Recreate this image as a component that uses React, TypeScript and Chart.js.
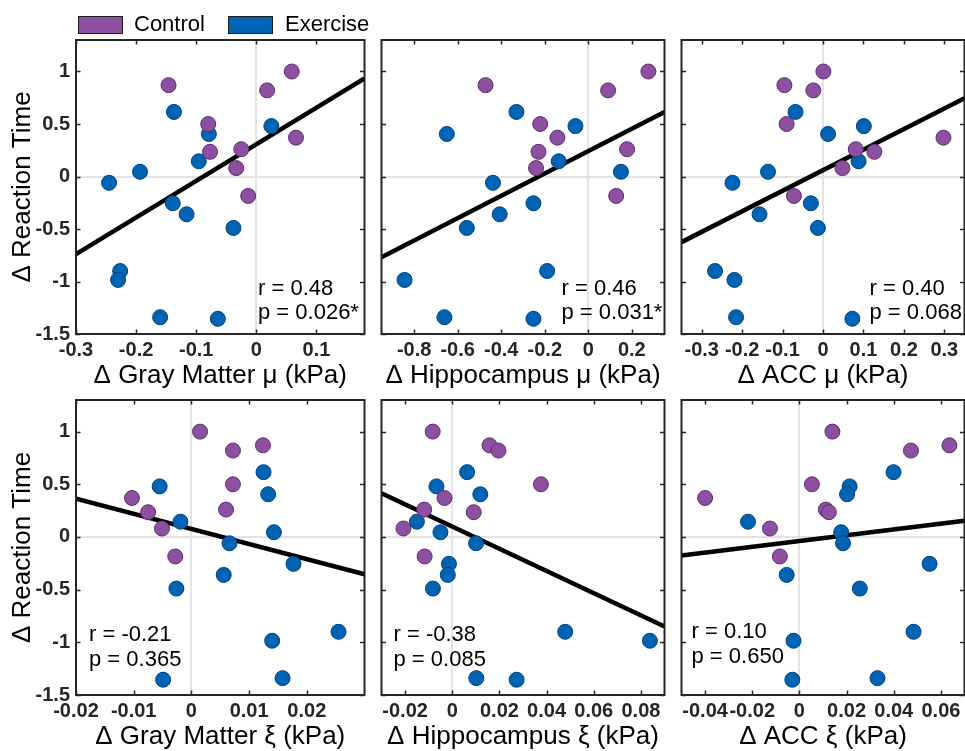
import React, { useEffect, useRef } from "react";
import { Chart, registerables } from "chart.js";

Chart.register(...registerables);

const FONT = '"Liberation Sans", Arial, Helvetica, sans-serif';

// ---------------- DATA ----------------
// Δ Reaction Time (shared y values, same subject order in every panel)
const controlRT = [1.0, 0.87, 0.82, 0.5, 0.37, 0.26, 0.235, 0.08, -0.185];
const exerciseRT = [0.615, 0.48, 0.405, 0.145, 0.045, -0.06, -0.255, -0.36, -0.49, -0.9, -0.985, -1.34, -1.355];

// Δ Gray Matter μ (kPa)
const gmMuControl = [0.059, -0.146, 0.018, -0.08, 0.066, -0.025, -0.077, -0.0335, -0.0135];
const gmMuExercise = [-0.137, 0.025, -0.079, -0.0957, -0.1935, -0.245, -0.139, -0.116, -0.038, -0.2265, -0.23, -0.16, -0.064];
const gmMuFitX = [-0.3, 0.18];
const gmMuFitY = [-0.74, 0.935];

// Δ Hippocampus μ (kPa)
const hipMuControl = [0.276, -0.472, 0.091, -0.221, -0.142, 0.178, -0.229, -0.24, 0.128];
const hipMuExercise = [-0.33, -0.059, -0.65, -0.136, 0.15, -0.438, -0.252, -0.407, -0.558, -0.189, -0.844, -0.661, -0.252];
const hipMuFitX = [-0.95, 0.35];
const hipMuFitY = [-0.77, 0.615];

// Δ ACC μ (kPa)
const accMuControl = [0.001, -0.0955, -0.024, -0.09, 0.298, 0.081, 0.127, 0.048, -0.072];
const accMuExercise = [-0.068, 0.101, 0.0126, 0.088, -0.136, -0.224, -0.03, -0.157, -0.0126, -0.267, -0.219, -0.215, 0.0726];
const accMuFitX = [-0.35, 0.35];
const accMuFitY = [-0.625, 0.745];

// Δ Gray Matter ξ (kPa)
const gmXiControl = [0.0015, 0.0124, 0.0072, 0.0072, -0.0103, 0.006, -0.0075, -0.0051, -0.0028];
const gmXiExercise = [0.0125, -0.0055, 0.0133, -0.0019, 0.0143, 0.0066, 0.0177, 0.0056, -0.0026, 0.0255, 0.014, 0.0158, -0.0049];
const gmXiFitX = [-0.02, 0.03];
const gmXiFitY = [0.363, -0.354];

// Δ Hippocampus ξ (kPa)
const hipXiControl = [-0.0083, 0.0158, 0.0196, 0.0376, -0.0033, -0.0119, 0.0091, -0.0207, -0.0117];
const hipXiExercise = [0.0063, -0.0067, 0.0119, -0.015, -0.005, 0.0101, -0.0014, -0.0019, -0.0082, 0.0479, 0.0838, 0.0102, 0.0273];
const hipXiFitX = [-0.03, 0.09];
const hipXiFitY = [0.414, -0.85];

// Δ ACC ξ (kPa)
const accXiControl = [0.014, 0.0636, 0.0473, 0.0053, -0.04, 0.0112, 0.0125, -0.0125, -0.0083];
const accXiExercise = [0.0399, 0.0213, 0.0202, -0.0218, 0.0177, 0.0185, 0.0552, -0.0054, 0.0256, 0.0484, -0.0025, 0.0331, -0.003];
const accXiFitX = [-0.05, 0.07];
const accXiFitY = [-0.175, 0.154];

// Tick labels
const yTicks = [-1.5, -1, -0.5, 0, 0.5, 1];
const gmMuTicks = [-0.3, -0.2, -0.1, 0, 0.1];
const hipMuTicks = [-0.8, -0.6, -0.4, -0.2, 0, 0.2];
const accMuTicks = [-0.3, -0.2, -0.1, 0, 0.1, 0.2, 0.3];
const gmXiTicks = [-0.02, -0.01, 0, 0.01, 0.02];
const hipXiTicks = [-0.02, 0, 0.02, 0.04, 0.06, 0.08];
const accXiTicks = [-0.04, -0.02, 0, 0.02, 0.04, 0.06];

// Statistics text
const gmMuStats = ["r = 0.48", "p = 0.026*"];
const hipMuStats = ["r = 0.46", "p = 0.031*"];
const accMuStats = ["r = 0.40", "p = 0.068"];
const gmXiStats = ["r = -0.21", "p = 0.365"];
const hipXiStats = ["r = -0.38", "p = 0.085"];
const accXiStats = ["r = 0.10", "p = 0.650"];

const yTitle = "Δ Reaction Time";

// ---------------- STYLE ----------------
const PURPLE = "#8D4F9F";
const PURPLE_EDGE = "#5F2C72";
const BLUE = "#0064B4";
const BLUE_EDGE = "#003E80";
const AXIS = "#262626";
const TICK_SIZE = 20;

const fmt = (v: number) => String(Math.round(v * 10000) / 10000);

type PanelCfg = {
  boxLeft: number;
  boxTop: number;
  boxW: number;
  boxH: number;
  showY: boolean;
  xMin: number;
  xMax: number;
  xTicks: number[];
  xTitle: string;
  control: number[];
  exercise: number[];
  fitX: number[];
  fitY: number[];
  stats: string[];
  sx: number;
  sy1: number;
  sy2: number;
};

const T = 22;
const R = 3;
const B = 60;

const panels: PanelCfg[] = [
  { boxLeft: 76, boxTop: 40, boxW: 294, boxH: 294, showY: true, xMin: -0.3, xMax: 0.18, xTicks: gmMuTicks, xTitle: "Δ Gray Matter μ (kPa)", control: gmMuControl, exercise: gmMuExercise, fitX: gmMuFitX, fitY: gmMuFitY, stats: gmMuStats, sx: 182, sy1: -45, sy2: -21.5 },
  { boxLeft: 376, boxTop: 40, boxW: 294, boxH: 294, showY: false, xMin: -0.95, xMax: 0.35, xTicks: hipMuTicks, xTitle: "Δ Hippocampus μ (kPa)", control: hipMuControl, exercise: hipMuExercise, fitX: hipMuFitX, fitY: hipMuFitY, stats: hipMuStats, sx: 180, sy1: -45, sy2: -21.5 },
  { boxLeft: 676, boxTop: 40, boxW: 294, boxH: 294, showY: false, xMin: -0.35, xMax: 0.35, xTicks: accMuTicks, xTitle: "Δ ACC μ (kPa)", control: accMuControl, exercise: accMuExercise, fitX: accMuFitX, fitY: accMuFitY, stats: accMuStats, sx: 188, sy1: -45, sy2: -21.5 },
  { boxLeft: 76, boxTop: 400, boxW: 294, boxH: 295, showY: true, xMin: -0.02, xMax: 0.03, xTicks: gmXiTicks, xTitle: "Δ Gray Matter ξ (kPa)", control: gmXiControl, exercise: gmXiExercise, fitX: gmXiFitX, fitY: gmXiFitY, stats: gmXiStats, sx: 13, sy1: -60, sy2: -35 },
  { boxLeft: 376, boxTop: 400, boxW: 294, boxH: 295, showY: false, xMin: -0.03, xMax: 0.09, xTicks: hipXiTicks, xTitle: "Δ Hippocampus ξ (kPa)", control: hipXiControl, exercise: hipXiExercise, fitX: hipXiFitX, fitY: hipXiFitY, stats: hipXiStats, sx: 12, sy1: -60, sy2: -35 },
  { boxLeft: 676, boxTop: 400, boxW: 294, boxH: 295, showY: false, xMin: -0.05, xMax: 0.07, xTicks: accXiTicks, xTitle: "Δ ACC ξ (kPa)", control: accXiControl, exercise: accXiExercise, fitX: accXiFitX, fitY: accXiFitY, stats: accXiStats, sx: 10, sy1: -63.5, sy2: -38.5 },
];

function Panel({ cfg }: { cfg: PanelCfg }) {
  const ref = useRef<HTMLCanvasElement | null>(null);
  const L = cfg.showY ? cfg.boxLeft : 3;
  const left = cfg.boxLeft - L;
  const top = cfg.boxTop - T;
  const width = L + cfg.boxW + R;
  const height = T + cfg.boxH + B;

  useEffect(() => {
    if (!ref.current) return;
    const framePlugin = {
      id: "frame",
      afterDraw(chart: any) {
        const { ctx, chartArea: a, scales } = chart;
        ctx.save();
        ctx.strokeStyle = AXIS;
        ctx.lineWidth = 1.5;
        const tl = 4.5;
        ctx.beginPath();
        for (const v of cfg.xTicks) {
          const px = Math.round(scales.x.getPixelForValue(v)) + 0.5;
          ctx.moveTo(px, a.bottom);
          ctx.lineTo(px, a.bottom - tl);
          ctx.moveTo(px, a.top);
          ctx.lineTo(px, a.top + tl);
        }
        for (const v of yTicks) {
          const py = Math.round(scales.y.getPixelForValue(v)) + 0.5;
          ctx.moveTo(a.left, py);
          ctx.lineTo(a.left + tl, py);
          ctx.moveTo(a.right, py);
          ctx.lineTo(a.right - tl, py);
        }
        ctx.stroke();
        ctx.lineWidth = 2;
        ctx.strokeRect(a.left, a.top, a.right - a.left, a.bottom - a.top);
        ctx.fillStyle = "#000";
        ctx.font = `22px ${FONT}`;
        ctx.textAlign = "left";
        ctx.textBaseline = "middle";
        ctx.fillText(cfg.stats[0], a.left + cfg.sx, a.bottom + cfg.sy1);
        ctx.fillText(cfg.stats[1], a.left + cfg.sx, a.bottom + cfg.sy2);
        ctx.restore();
      },
    };

    const zeroGrid = (c: any) =>
      c.tick && Math.abs(c.tick.value) < 1e-9 ? "#E3E3E3" : "rgba(0,0,0,0)";

    const chart = new Chart(ref.current, {
      type: "scatter",
      data: {
        datasets: [
          {
            label: "Control",
            data: cfg.control.map((x, i) => ({ x, y: controlRT[i] })),
            backgroundColor: PURPLE,
            borderColor: PURPLE_EDGE,
            borderWidth: 1,
            pointRadius: 7.5,
            pointHoverRadius: 7.5,
          },
          {
            label: "Exercise",
            data: cfg.exercise.map((x, i) => ({ x, y: exerciseRT[i] })),
            backgroundColor: BLUE,
            borderColor: BLUE_EDGE,
            borderWidth: 1,
            pointRadius: 7.5,
            pointHoverRadius: 7.5,
          },
          {
            label: "Fit",
            data: cfg.fitX.map((x, i) => ({ x, y: cfg.fitY[i] })),
            showLine: true,
            borderColor: "#000",
            backgroundColor: "#000",
            borderWidth: 4.5,
            pointRadius: 0,
            pointHoverRadius: 0,
            fill: false,
          } as any,
        ],
      },
      options: {
        animation: false,
        responsive: false,
        events: [],
        layout: { padding: { top: T, right: R, left: 0, bottom: 0 } },
        plugins: { legend: { display: false }, tooltip: { enabled: false } },
        scales: {
          x: {
            type: "linear",
            position: "bottom",
            min: cfg.xMin,
            max: cfg.xMax,
            afterBuildTicks: (s: any) => {
              s.ticks = cfg.xTicks.map((v) => ({ value: v }));
            },
            afterFit: (s: any) => {
              s.height = B;
            },
            ticks: {
              padding: 4,
              autoSkip: false,
              maxRotation: 0,
              color: AXIS,
              font: { family: FONT, size: TICK_SIZE, weight: "bold", lineHeight: 1.2 },
              callback: (v: any) => fmt(Number(v)),
            },
            grid: { drawTicks: false, color: zeroGrid, lineWidth: 2 },
            border: { display: false },
            title: {
              display: true,
              text: cfg.xTitle,
              color: "#000",
              font: { family: FONT, size: 26 },
              padding: { top: 0, bottom: 3 },
            },
          },
          y: {
            type: "linear",
            position: "left",
            min: -1.5,
            max: 1.3,
            afterBuildTicks: (s: any) => {
              s.ticks = yTicks.map((v) => ({ value: v }));
            },
            afterFit: (s: any) => {
              s.width = L;
            },
            ticks: {
              display: cfg.showY,
              padding: 6,
              color: AXIS,
              font: { family: FONT, size: TICK_SIZE, weight: "bold" },
              callback: (v: any) => fmt(Number(v)),
            },
            grid: { drawTicks: false, color: zeroGrid, lineWidth: 2 },
            border: { display: false },
            title: {
              display: cfg.showY,
              text: yTitle,
              color: "#000",
              font: { family: FONT, size: 26 },
              padding: { top: 7, bottom: 0 },
            },
          },
        },
      },
      plugins: [framePlugin],
    } as any);
    return () => chart.destroy();
  }, []);

  return (
    <canvas
      ref={ref}
      width={width}
      height={height}
      style={{ position: "absolute", left, top, width, height }}
    />
  );
}

export default function App() {
  const legendText: React.CSSProperties = {
    position: "absolute",
    top: 13,
    height: 22,
    lineHeight: "22px",
    fontSize: 22,
    fontFamily: FONT,
    color: "#000",
    whiteSpace: "nowrap",
  };
  const legendBox: React.CSSProperties = {
    position: "absolute",
    top: 15.5,
    width: 45,
    height: 18,
    boxSizing: "border-box",
    border: "1.5px solid #1e1e1e",
  };
  return (
    <div
      style={{
        position: "fixed",
        left: 0,
        top: 0,
        width: 965,
        height: 751,
        overflow: "hidden",
        background: "#fff",
      }}
    >
      {panels.map((p, i) => (
        <Panel key={i} cfg={p} />
      ))}
      <div style={{ ...legendBox, left: 78, background: PURPLE }} />
      <div style={{ ...legendText, left: 134 }}>Control</div>
      <div style={{ ...legendBox, left: 228, background: BLUE }} />
      <div style={{ ...legendText, left: 285 }}>Exercise</div>
    </div>
  );
}
